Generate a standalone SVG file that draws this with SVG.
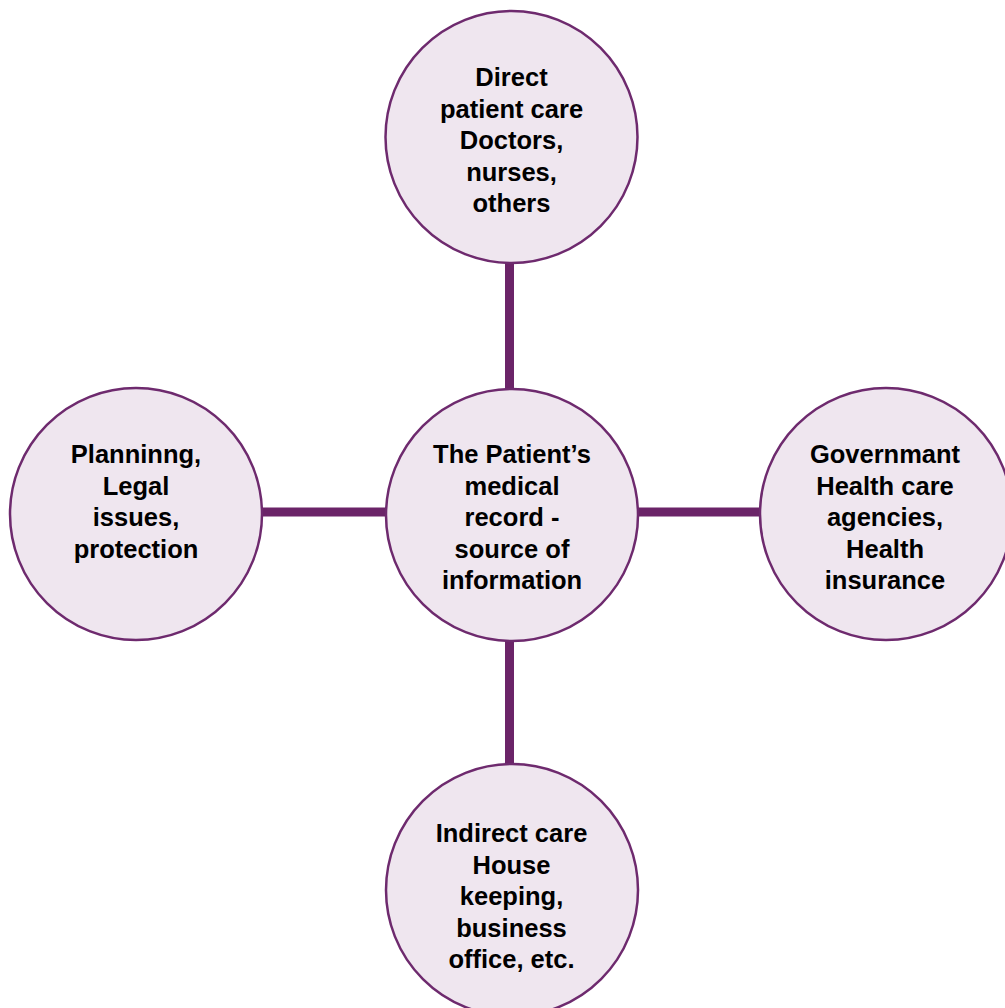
<svg xmlns="http://www.w3.org/2000/svg" width="1005" height="1008" viewBox="0 0 1005 1008">
<style>
.node{fill:#efe6ef;stroke:#6e2a6e;stroke-width:2.5}
.conn{stroke:#6b2468;stroke-width:9;fill:none}
.lbl{font-family:"Liberation Sans",Arial,sans-serif;font-weight:bold;font-size:25.5px;fill:#000;text-anchor:middle}
</style>
<rect width="1005" height="1008" fill="#fff"/>
<g id="connectors">
<line class="conn" x1="509.5" y1="262" x2="509.5" y2="389"/>
<line class="conn" x1="509.5" y1="641" x2="509.5" y2="765"/>
<line class="conn" x1="262" y1="512" x2="387" y2="512"/>
<line class="conn" x1="638" y1="512" x2="761" y2="512"/>
</g>
<g id="node-top">
<circle class="node" cx="511.5" cy="137" r="126"/>
<text class="lbl" x="511.5" y="86">Direct</text>
<text class="lbl" x="511.5" y="117.5">patient care</text>
<text class="lbl" x="511.5" y="149">Doctors,</text>
<text class="lbl" x="511.5" y="180.5">nurses,</text>
<text class="lbl" x="511.5" y="212">others</text>
</g>
<g id="node-center">
<circle class="node" cx="512" cy="515" r="126"/>
<text class="lbl" x="512" y="463">The Patient’s</text>
<text class="lbl" x="512" y="494.5">medical</text>
<text class="lbl" x="512" y="526">record -</text>
<text class="lbl" x="512" y="557.5">source of</text>
<text class="lbl" x="512" y="589">information</text>
</g>
<g id="node-left">
<circle class="node" cx="136" cy="514" r="126"/>
<text class="lbl" x="136" y="463">Planninng,</text>
<text class="lbl" x="136" y="494.5">Legal</text>
<text class="lbl" x="136" y="526">issues,</text>
<text class="lbl" x="136" y="557.5">protection</text>
</g>
<g id="node-right">
<circle class="node" cx="886" cy="514" r="126"/>
<text class="lbl" x="885" y="463">Governmant</text>
<text class="lbl" x="885" y="494.5">Health care</text>
<text class="lbl" x="885" y="526">agencies,</text>
<text class="lbl" x="885" y="557.5">Health</text>
<text class="lbl" x="885" y="589">insurance</text>
</g>
<g id="node-bottom">
<circle class="node" cx="512" cy="890" r="126"/>
<text class="lbl" x="511.5" y="842">Indirect care</text>
<text class="lbl" x="511.5" y="873.5">House</text>
<text class="lbl" x="511.5" y="905">keeping,</text>
<text class="lbl" x="511.5" y="936.5">business</text>
<text class="lbl" x="511.5" y="968">office, etc.</text>
</g>
</svg>
